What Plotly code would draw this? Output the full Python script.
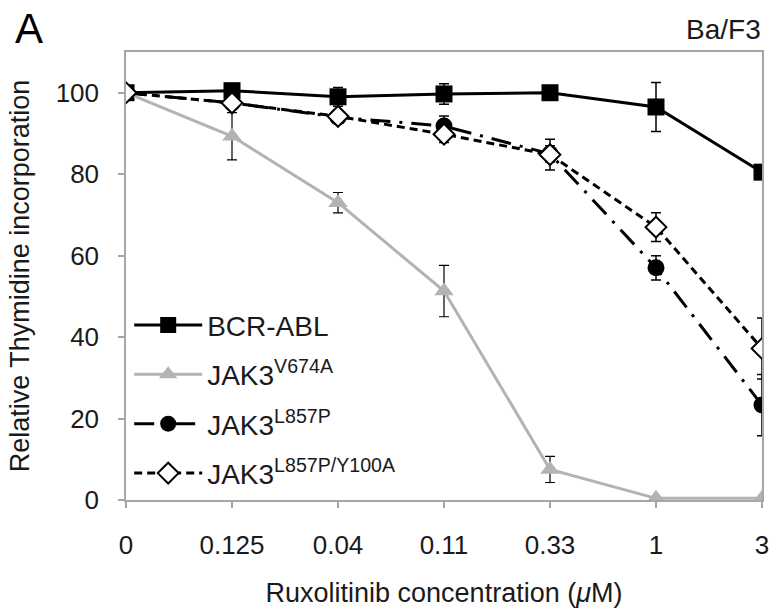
import plotly.graph_objects as go

categories = ["0", "0.125", "0.04", "0.11", "0.33", "1", "3"]

bcr_abl = [100, 100.5, 99, 99.7, 100, 96.5, 80.5]
bcr_abl_err = [0.5, 0.5, 2.3, 2.5, 0.5, 6, 0.5]

v674a = [100, 89.3, 73, 51.3, 7.5, 0.4, 0.4]
v674a_err = [0.5, 5.8, 2.5, 6.3, 3.2, 0.2, 0.2]

l857p = [100, 97.5, 94, 91.8, 85, 57, 23.3]
l857p_err = [0.5, 0.8, 1.2, 2.5, 2, 3, 7.5]

y100a = [100, 97.5, 94.2, 89.8, 84.8, 67, 37.2]
y100a_err = [0.5, 1, 1.5, 2, 3.8, 3.5, 7.5]

FONT = "Liberation Sans, Arial, Helvetica, sans-serif"
TXT = "#1a1a1a"

fig = go.Figure()

fig.add_trace(go.Scatter(
    x=categories, y=bcr_abl, name="BCR-ABL", legendgroup="a",
    mode="lines+markers",
    line=dict(color="black", width=3),
    marker=dict(symbol="square", size=17, color="black"),
    error_y=dict(type="data", array=bcr_abl_err, color="black", thickness=1.5, width=5),
))
fig.add_trace(go.Scatter(
    x=categories, y=v674a, name="JAK3<sup>V674A</sup>", legendgroup="b",
    mode="lines+markers",
    line=dict(color="#b3b3b3", width=3),
    marker=dict(symbol="triangle-up", size=17, color="#b3b3b3"),
    error_y=dict(type="data", array=v674a_err, color="black", thickness=1.2, width=5),
))
fig.add_trace(go.Scatter(
    x=categories, y=l857p, name="JAK3<sup>L857P</sup>", legendgroup="c",
    mode="lines+markers",
    line=dict(color="black", width=3, dash="20px,9px,3px,9px"),
    marker=dict(symbol="circle", size=17, color="black"),
    error_y=dict(type="data", array=l857p_err, color="black", thickness=1.5, width=5),
))
fig.add_trace(go.Scatter(
    x=categories, y=y100a, name="JAK3<sup>L857P/Y100A</sup>", legendgroup="d",
    mode="lines+markers",
    line=dict(color="black", width=3, dash="8px,5px"),
    marker=dict(symbol="diamond", size=16, color="white", line=dict(color="black", width=2)),
    error_y=dict(type="data", array=y100a_err, color="black", thickness=1.5, width=5),
))

axis_common = dict(
    showline=True, linecolor="#a6a6a6", linewidth=1.5, mirror=True,
    ticks="outside", ticklen=6, tickcolor="#a6a6a6", tickwidth=1.5,
    showgrid=False, zeroline=False,
    tickfont=dict(family=FONT, size=26, color=TXT),
)

fig.update_layout(
    width=777, height=613,
    margin=dict(l=126, r=15, t=52, b=113, autoexpand=False),
    paper_bgcolor="white", plot_bgcolor="white",
    font=dict(family=FONT, color=TXT),
    xaxis=dict(
        **axis_common,
        type="category", range=[0, 6],
        title=dict(text="Ruxolitinib concentration (<i>μ</i>M)",
                   font=dict(family=FONT, size=27, color=TXT), standoff=24),
        ticklabelstandoff=15,
    ),
    yaxis=dict(
        **axis_common,
        range=[0, 110], tickvals=[0, 20, 40, 60, 80, 100],
        title=dict(text="Relative Thymidine incorporation",
                   font=dict(family=FONT, size=27, color=TXT), standoff=18),
        ticklabelstandoff=14,
    ),
    legend=dict(
        x=0.005, y=0.446, xanchor="left", yanchor="top",
        bgcolor="rgba(0,0,0,0)",
        font=dict(family=FONT, size=28, color=TXT),
        tracegroupgap=10, traceorder="grouped",
        itemwidth=68,
    ),
    annotations=[
        dict(text="A", xref="paper", yref="paper", x=-0.178, y=1.11,
             xanchor="left", yanchor="top", showarrow=False,
             font=dict(family=FONT, size=42, color="black")),
        dict(text="Ba/F3", xref="paper", yref="paper", x=1.002, y=1.012,
             xanchor="right", yanchor="bottom", showarrow=False,
             font=dict(family=FONT, size=28, color=TXT)),
    ],
)

fig.write_html(
    "out.html",
    config={"displayModeBar": False},
    post_script="document.documentElement.style.margin='0';document.body.style.margin='0';document.body.style.overflow='hidden';",
)
